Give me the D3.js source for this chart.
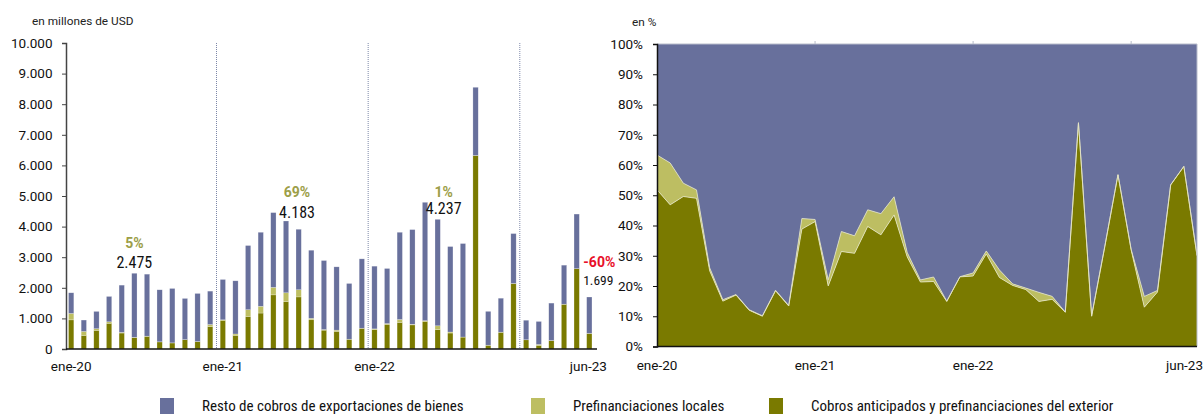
<!DOCTYPE html>
<html>
<head>
<meta charset="utf-8">
<script src="https://cdn.jsdelivr.net/npm/d3@7"></script>
<style>
  body { margin: 0; background: #fff; }
  svg { display: block; font-family: Roboto, "Liberation Sans", sans-serif; }
</style>
</head>
<body>
<svg id="chart" width="1204" height="414"></svg>
<script>
// monthly, ene-20 .. jun-23
const months = d3.range(42).map(i => new Date(2020, i, 1));
const monthNames = ["ene","feb","mar","abr","may","jun","jul","ago","sep","oct","nov","dic"];

// millones de USD
const exterior = [952, 443, 609, 841, 522, 371, 416, 232, 198, 304, 243, 734,
                  938, 446, 1062, 1175, 1769, 1544, 1702, 955, 616, 577, 319, 678,
                  631, 805, 870, 788, 902, 631, 522, 390, 6325, 123, 548, 2141,
                  300, 117, 270, 1463, 2624, 510];
const locales  = [211, 131, 54, 48, 21, 12, 4, 3, 3, 3, 3, 66,
                  16, 45, 223, 221, 245, 293, 235, 48, 20, 40, 2, 2,
                  27, 26, 95, 20, 24, 127, 33, 2, 2, 2, 2, 2,
                  2, 32, 8, 2, 2, 2];
const resto    = [674, 372, 565, 828, 1544, 2092, 2026, 1700, 1777, 1345, 1569, 1091,
                  1318, 1737, 2096, 2419, 2443, 2346, 1976, 2225, 2255, 2068, 1820, 2266,
                  2049, 1800, 2850, 3094, 3868, 3479, 2793, 3054, 2226, 1105, 1110, 1629,
                  638, 751, 1222, 1275, 1784, 1187];

const seriesNames = ["Resto de cobros de exportaciones de bienes", "Prefinanciaciones locales",
                     "Cobros anticipados y prefinanciaciones del exterior"];
const seriesColors = ["#68709c", "#bdbe62", "#7a7a00"];

const yTicksLeft = d3.range(0, 10001, 1000);
const yTicksRight = d3.range(0, 1.0001, 0.1);
const xLabelIdx = [0, 12, 24, 41];

// annotations over June bars: interannual change
const noteIdx = [5, 17, 29, 41];
const notePct = ["5%", "69%", "1%", "-60%"];

const data = months.map((m, i) => ({
  date: m, ext: exterior[i], loc: locales[i], rest: resto[i],
  total: exterior[i] + locales[i] + resto[i]
}));

const loc = d3.formatLocale({decimal: ",", thousands: ".", grouping: [3], currency: ["", ""]});
const fmt = loc.format(",");
const monthLabel = d => monthNames[d.getMonth()] + "-" + String(d.getFullYear()).slice(2);

const svg = d3.select("#chart");
const keys = ["ext", "loc", "rest"];
const colorOf = {ext: seriesColors[2], loc: seriesColors[1], rest: seriesColors[0]};

// ---------- left: stacked bars ----------
const L = {x0: 66, x1: 594.5, y0: 43, y1: 349};
const x = d3.scaleBand().domain(d3.range(42)).range([L.x0, L.x1]).paddingInner(0.58).paddingOuter(0.2);
const y = d3.scaleLinear().domain([0, 10000]).range([L.y1, L.y0]);

svg.append("text").attr("x", 32).attr("y", 25).attr("font-size", 11.8).attr("fill", "#222")
  .text("en millones de USD");

// year separators
[12, 24, 36].forEach(i => {
  const xx = x(i) - x.step() * x.paddingInner() / 2;
  svg.append("line").attr("x1", xx).attr("x2", xx).attr("y1", L.y0).attr("y2", L.y1)
    .attr("stroke", "#7d87a8").attr("stroke-width", 1).attr("stroke-dasharray", "1,1");
});

const stack = d3.stack().keys(keys);
const stacked = stack(data);

svg.append("g").selectAll("g").data(stacked).join("g")
  .attr("fill", d => colorOf[d.key])
  .selectAll("rect").data(d => d).join("rect")
    .attr("x", (d, i) => x(i))
    .attr("width", x.bandwidth())
    .attr("y", d => y(d[1]))
    .attr("height", d => Math.max(0, y(d[0]) - y(d[1])))
    .attr("stroke", "#ffffff").attr("stroke-opacity", 0.45).attr("stroke-width", 0.5);

const yAxisL = svg.append("g").attr("transform", `translate(${L.x0},0)`)
  .call(d3.axisLeft(y).tickValues(yTicksLeft).tickFormat(fmt).tickSize(4).tickPadding(9.5));
yAxisL.select(".domain").attr("stroke", "#444").attr("stroke-width", 1.5);
yAxisL.selectAll(".tick line").attr("stroke", "#444");
yAxisL.selectAll("text").attr("font-size", 13.5).attr("fill", "#111").attr("font-family", "Roboto");

svg.append("line").attr("x1", L.x0).attr("x2", 597).attr("y1", L.y1).attr("y2", L.y1)
  .attr("stroke", "#111").attr("stroke-width", 1.5);

svg.append("g").selectAll("text").data(xLabelIdx).join("text")
  .attr("x", i => x(i) + x.bandwidth() / 2 + (i === 41 ? -1 : 0))
  .attr("y", 371).attr("text-anchor", "middle").attr("font-size", 13.5).attr("fill", "#111")
  .text(i => monthLabel(months[i]));

// annotations
const noteDx = [0, 11, 6, 9];
const valDy = [-5, -3, -5, -12];
const pctDy = [-20, -21, -17, -18.5];
const valSize = [16, 16, 16, 13.5];
noteIdx.forEach((idx, k) => {
  const cx = x(idx) + x.bandwidth() / 2 + noteDx[k];
  const top = y(data[idx].total);
  svg.append("text").attr("x", cx).attr("y", top + valDy[k]).attr("text-anchor", "middle")
    .attr("font-family", "'Liberation Sans Narrow', 'Roboto Condensed', sans-serif")
    .attr("font-size", valSize[k]).attr("fill", "#111")
    .text(fmt(data[idx].total));
  svg.append("text").attr("x", cx + (k === 3 ? 1 : 0)).attr("y", top + valDy[k] + pctDy[k])
    .attr("text-anchor", "middle").attr("font-weight", "bold").attr("font-size", 14)
    .attr("fill", k === 3 ? "#e8102a" : "#9c9e48")
    .text(notePct[k]);
});

// ---------- right: stacked 100% areas ----------
const R = {x0: 657, x1: 1197, y0: 44, y1: 346.5};
const xr = d3.scalePoint().domain(d3.range(42)).range([R.x0, R.x1]);
const yr = d3.scaleLinear().domain([0, 1]).range([R.y1, R.y0]);

svg.append("text").attr("x", 632).attr("y", 26).attr("font-size", 11.8).attr("fill", "#222").text("en %");

const share = data.map(d => ({ext: d.ext / d.total, loc: d.loc / d.total, rest: d.rest / d.total}));
const stackedR = stack(share);
const area = d3.area().x((d, i) => xr(i)).y0(d => yr(d[0])).y1(d => yr(d[1]));
const topLine = d3.line().x((d, i) => xr(i)).y(d => yr(d[1]));

svg.append("g").selectAll("path").data(stackedR).join("path")
  .attr("d", area).attr("fill", d => colorOf[d.key]);
svg.append("g").selectAll("path").data(stackedR.slice(0, 2)).join("path")
  .attr("d", topLine).attr("fill", "none").attr("stroke", "#e4e4c4").attr("stroke-width", 0.8);

// frame top / right
svg.append("path").attr("d", `M${R.x0},${R.y0}H${R.x1}V${R.y1}`).attr("fill", "none")
  .attr("stroke", "#b8bccb").attr("stroke-width", 1);
[12, 24, 36].forEach(i => {
  svg.append("line").attr("x1", xr(i)).attr("x2", xr(i)).attr("y1", R.y0).attr("y2", R.y0 - 3)
    .attr("stroke", "#b8bccb");
});

const yAxisR = svg.append("g").attr("transform", `translate(${R.x0},0)`)
  .call(d3.axisLeft(yr).tickValues(yTicksRight).tickFormat(d => Math.round(d * 100) + "%").tickSize(4).tickPadding(10));
yAxisR.select(".domain").attr("stroke", "#111").attr("stroke-width", 1.5);
yAxisR.selectAll(".tick line").attr("stroke", "#111");
yAxisR.selectAll("text").attr("font-size", 13.5).attr("fill", "#111").attr("font-family", "Roboto");

svg.append("line").attr("x1", R.x0).attr("x2", R.x1).attr("y1", R.y1).attr("y2", R.y1)
  .attr("stroke", "#111").attr("stroke-width", 1.5);

svg.append("g").selectAll("text").data(xLabelIdx).join("text")
  .attr("x", i => i === 41 ? 1203 : xr(i))
  .attr("y", 370).attr("text-anchor", i => i === 41 ? "end" : "middle")
  .attr("font-size", 13.5).attr("fill", "#111")
  .text(i => monthLabel(months[i]));

// ---------- legend ----------
const legX = [160, 531, 769];
const legend = svg.append("g").selectAll("g").data(seriesNames).join("g")
  .attr("transform", (d, i) => `translate(${legX[i]},398)`);
legend.append("rect").attr("width", 14).attr("height", 16).attr("fill", (d, i) => seriesColors[i]);
legend.append("text").attr("x", 42).attr("y", 12.5)
  .attr("font-family", "'Liberation Sans Narrow', 'Roboto Condensed', sans-serif")
  .attr("font-size", 15).attr("fill", "#111").text(d => d);
</script>
</body>
</html>
